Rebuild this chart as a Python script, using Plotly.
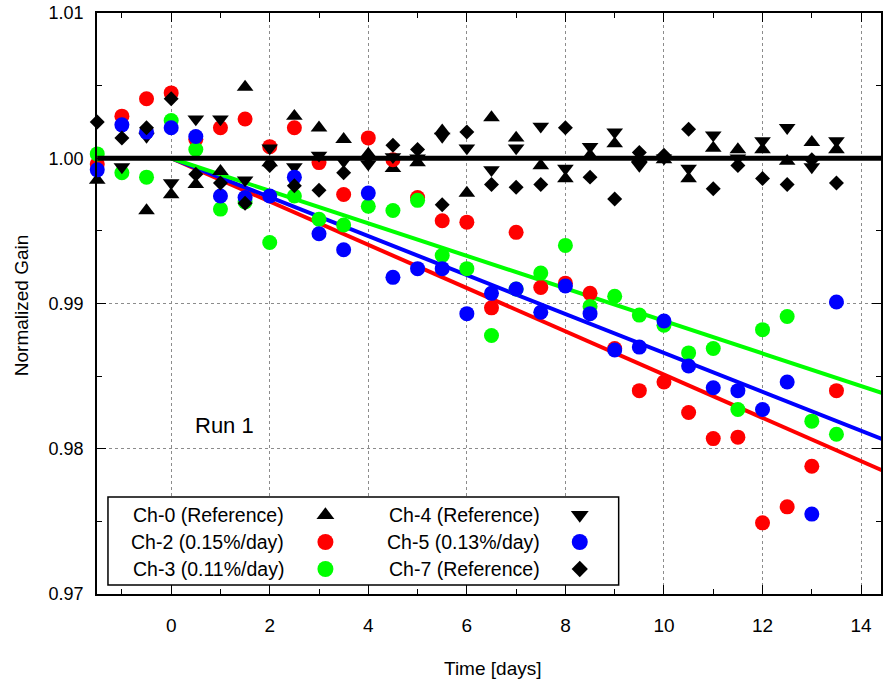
import plotly.graph_objects as go

# ---------------- data ----------------
time_days = [-1.5, -1.0, -0.5, 0.0, 0.5, 1.0, 1.5, 2.0, 2.5, 3.0, 3.5, 4.0, 4.5, 5.0, 5.5,
             6.0, 6.5, 7.0, 7.5, 8.0, 8.5, 9.0, 9.5, 10.0, 10.5, 11.0, 11.5, 12.0, 12.5, 13.0, 13.5]

ch0_ref = [0.9985, None, 0.9964, 0.9975, 0.9982, 0.9991, 1.0049, 0.9997, 1.0029, 1.0021, 1.0013,
           1.0003, 0.9993, 0.9997, 1.0019, 0.9976, 1.0028, 1.0014, 0.9995, 0.9986, 1.0002, 1.0010,
           1.0000, 0.9999, 0.9986, 1.0007, 1.0006, 1.0006, 0.9998, 1.0011, 1.0006]
ch2 = [0.9996, 1.0029, 1.0041, 1.0045, 1.0013, 1.0021, 1.0027, 1.0008, 1.0021, 0.9997, 0.9975,
       1.0014, 0.9999, 0.9973, 0.9957, 0.9956, 0.9897, 0.9949, 0.9911, 0.9914, 0.9907, 0.9869,
       0.9840, 0.9846, 0.9825, 0.9807, 0.9808, 0.9749, 0.9760, 0.9788, 0.9840]
ch3 = [1.0003, 0.9990, 0.9987, 1.0026, 1.0006, 0.9965, 0.9970, 0.9942, 0.9974, 0.9958, 0.9954,
       0.9967, 0.9964, 0.9971, 0.9933, 0.9924, 0.9878, 0.9910, 0.9921, 0.9940, 0.9898, 0.9905,
       0.9892, 0.9885, 0.9866, 0.9869, 0.9827, 0.9882, 0.9891, 0.9819, 0.9810]
ch4_ref = [None, 0.9994, 1.0015, 0.9983, 1.0027, 1.0027, 0.9985, 1.0007, 0.9994, 1.0002, 0.9998,
           0.9996, 1.0001, 1.0000, 1.0015, 1.0007, 0.9992, 1.0007, 1.0022, 0.9993, 1.0008, 1.0018,
           0.9995, 1.0000, 0.9993, 1.0016, 1.0000, 1.0012, 1.0021, 0.9994, 1.0012]
ch5 = [0.9992, 1.0023, 1.0018, 1.0021, 1.0015, 0.9974, 0.9973, 0.9974, 0.9987, 0.9948, 0.9937,
       0.9976, 0.9918, 0.9924, 0.9924, 0.9893, 0.9907, 0.9910, 0.9894, 0.9912, 0.9893, 0.9868,
       0.9870, 0.9888, 0.9857, 0.9842, 0.9840, 0.9827, 0.9846, 0.9755, 0.9901]
ch7_ref = [1.0025, 1.0014, 1.0021, 1.0041, 0.9989, 0.9983, 0.9969, 0.9995, 0.9981, 0.9978, 0.9990,
           1.0001, 1.0009, 1.0006, 0.9968, 1.0018, 0.9982, 0.9980, 0.9982, 1.0021, 0.9987, 0.9972,
           1.0004, 1.0002, 1.0020, 0.9979, 0.9995, 0.9986, 0.9982, 0.9999, 0.9983]

# linear fits (start and end points)
fit_t = [0.0, 14.5]
fit_ch2 = [1.0, 0.97840]
fit_ch5 = [1.0, 0.98057]
fit_ch3 = [1.0, 0.98376]
ref_t = [-1.5, 14.5]
ref_level = [1.0, 1.0]

x_ticks = [0, 2, 4, 6, 8, 10, 12, 14]
y_ticks = [0.97, 0.98, 0.99, 1.00, 1.01]
y_tick_text = ["0.97", "0.98", "0.99", "1.00", "1.01"]

legend_labels = ["Ch-0 (Reference)", "Ch-2 (0.15%/day)", "Ch-3 (0.11%/day)",
                 "Ch-4 (Reference)", "Ch-5 (0.13%/day)", "Ch-7 (Reference)"]

# ---------------- styles ----------------
RED, BLUE, GREEN, BLACK = "#ff0000", "#0000ff", "#00ff00", "#000000"
FONT = "Liberation Sans, Arial, Helvetica, sans-serif"
series = [
    (ch0_ref, "triangle-up", BLACK, 14.5),
    (ch2, "circle", RED, 15),
    (ch3, "circle", GREEN, 15),
    (ch4_ref, "triangle-down", BLACK, 14.5),
    (ch5, "circle", BLUE, 15),
    (ch7_ref, "diamond", BLACK, 11.5),
]

W, H = 883, 681
L, R, T, B = 97, 0, 13, 87
X0, X1 = -1.505, 14.404
Y0, Y1 = 0.97, 1.01


def px_to_x(px):
    return X0 + (px - L) / (W - R - L) * (X1 - X0)


def py_to_y(py):
    return Y1 - (py - T) / (H - B - T) * (Y1 - Y0)


def px_to_paper(px):
    return (px - L) / (W - R - L)


def py_to_paper(py):
    return (H - B - py) / (H - B - T)


fig = go.Figure()

# fit lines
for fy, col in [(fit_ch2, RED), (fit_ch5, BLUE), (fit_ch3, GREEN)]:
    fig.add_trace(go.Scatter(x=fit_t, y=fy, mode="lines", line=dict(color=col, width=4),
                             showlegend=False, hoverinfo="skip"))

# data points
for vals, sym, col, sz in series:
    fig.add_trace(go.Scatter(x=time_days, y=vals, mode="markers",
                             marker=dict(symbol=sym, color=col, size=sz, line=dict(width=0)),
                             cliponaxis=False, showlegend=False))

# reference line at 1.00
fig.add_trace(go.Scatter(x=ref_t, y=ref_level, mode="lines", line=dict(color=BLACK, width=5),
                         showlegend=False, hoverinfo="skip"))

# ---------------- custom legend (pixel helper axes) ----------------
LEG_BOX = (108, 497, 620, 585)
LEG_ROWS = [515, 542, 569]
LEG_TEXT_X = [286, 543]
LEG_SYM_X = [326, 581]

for i, (vals, sym, col, sz) in enumerate(series):
    c, r = divmod(i, 3)
    fig.add_trace(go.Scatter(x=[LEG_SYM_X[c]], y=[LEG_ROWS[r]], xaxis="x2", yaxis="y2",
                             mode="markers",
                             marker=dict(symbol=sym, color=col, size=sz + 1, line=dict(width=0)),
                             cliponaxis=False, showlegend=False, hoverinfo="skip"))
    fig.add_annotation(x=LEG_TEXT_X[c], y=LEG_ROWS[r], xref="x2", yref="y2",
                       text=legend_labels[i], showarrow=False, xanchor="right", yanchor="middle",
                       font=dict(family=FONT, size=19.5, color=BLACK))

fig.add_shape(type="rect", xref="x", yref="y",
              x0=px_to_x(LEG_BOX[0]), y0=py_to_y(LEG_BOX[1]),
              x1=px_to_x(LEG_BOX[2]), y1=py_to_y(LEG_BOX[3]),
              line=dict(color=BLACK, width=1.5), fillcolor="white", layer="between")

# axis titles and label
fig.add_annotation(x=px_to_paper(494), y=py_to_paper(668), xref="paper", yref="paper",
                   text="Time [days]", showarrow=False, xanchor="center", yanchor="middle",
                   font=dict(family=FONT, size=19, color=BLACK))
fig.add_annotation(x=px_to_paper(21), y=py_to_paper(305), xref="paper", yref="paper",
                   text="Normalized Gain", showarrow=False, textangle=-90,
                   xanchor="center", yanchor="middle",
                   font=dict(family=FONT, size=19, color=BLACK))
fig.add_annotation(x=1.09, y=0.98158, xref="x", yref="y", text="Run 1", showarrow=False,
                   xanchor="center", yanchor="middle", font=dict(family=FONT, size=22, color=BLACK))

fig.update_layout(
    width=W, height=H,
    margin=dict(l=L, r=R, t=T, b=B, pad=0),
    paper_bgcolor="white", plot_bgcolor="white",
    showlegend=False,
    font=dict(family=FONT, color=BLACK),
    xaxis=dict(range=[X0, X1], tickvals=x_ticks, ticks="inside", ticklen=9, tickwidth=1,
               tickcolor=BLACK, showgrid=True, gridcolor="#8c8c8c", griddash="dot", gridwidth=1,
               showline=True, linecolor=BLACK, linewidth=1.5, mirror="allticks", zeroline=False,
               tickfont=dict(family=FONT, size=19, color=BLACK), ticklabelstandoff=13,
               minor=dict(dtick=1, tick0=0, ticks="inside", ticklen=5, tickcolor=BLACK,
                          showgrid=False)),
    yaxis=dict(range=[Y0, Y1], tickvals=y_ticks, ticktext=y_tick_text, ticks="inside",
               ticklen=9, tickwidth=1, tickcolor=BLACK, showgrid=True, gridcolor="#8c8c8c",
               griddash="dot", gridwidth=1, showline=True, linecolor=BLACK, linewidth=1.5,
               mirror="allticks", zeroline=False,
               tickfont=dict(family=FONT, size=18, color=BLACK), ticklabelstandoff=8,
               minor=dict(dtick=0.005, tick0=0.97, ticks="inside", ticklen=5, tickcolor=BLACK,
                          showgrid=False)),
    xaxis2=dict(overlaying="x", range=[L, W - R], visible=False, fixedrange=True),
    yaxis2=dict(overlaying="y", range=[H - B, T], visible=False, fixedrange=True),
)

fig.write_html("out.html")
